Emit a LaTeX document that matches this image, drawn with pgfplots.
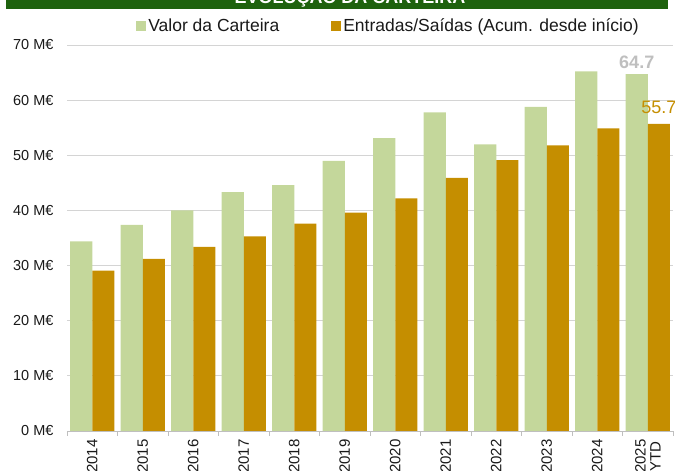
\documentclass[border=0pt]{standalone}
\usepackage{pgfplots}
\pgfplotsset{compat=1.18}
\usepackage{fontspec}
\setmainfont{Liberation Sans}
\definecolor{cgreen}{RGB}{196,215,155}
\definecolor{cgold}{RGB}{197,142,0}
\definecolor{cbanner}{RGB}{30,98,14}
\definecolor{clabgray}{RGB}{191,191,191}
\begin{document}
\begin{tikzpicture}[x=1bp,y=1bp]
\fill[cbanner] (6,461.5) rectangle (668,475);
\node[anchor=base,text=white,font=\fontsize{18bp}{20bp}\selectfont\bfseries,inner sep=0pt] at (350,467) {EVOLUÇÃO DA CARTEIRA};
\begin{axis}[
  at={(67bp,40bp)}, anchor=south west,
  scale only axis, width=606bp, height=386bp,
  xmin=-0.5, xmax=11.5, ymin=0, ymax=70,
  ybar=0pt, bar width=0.436,
  axis x line*=bottom, axis y line*=left,
  x axis line style={draw=black!25, line width=0.8bp},
  y axis line style={draw=none},
  ytick={0,10,...,70},
  yticklabels={0 M€,10 M€,20 M€,30 M€,40 M€,50 M€,60 M€,70 M€},
  yticklabel style={font=\fontsize{14.5bp}{16bp}\selectfont, text=black!90, xshift=-10bp},
  ytick style={draw=none},
  ymajorgrids, grid style={draw=black!17, line width=0.8bp},
  xtick={0,...,11},
  xticklabels={2014,2015,2016,2017,2018,2019,2020,2021,2022,2023,2024,{2025\\YTD}},
  xticklabel style={yshift=-5bp, rotate=90, anchor=east, align=center, font=\fontsize{15bp}{15bp}\selectfont, text=black!90},
  major x tick style={draw=none},
  minor xtick={-0.5,0.5,...,11.5},
  minor x tick style={draw=black!25, line width=0.8bp},
  tick align=outside, minor tick length=5bp, major tick length=0pt,
  legend columns=2,
  legend style={draw=none, fill=none, at={(0.5305,1.049)}, anchor=center,
    font=\fontsize{17.5bp}{19bp}\selectfont, text=black!90,
    /tikz/every even column/.append style={column sep=50bp},
    inner sep=0pt},
  legend image code/.code={\fill[#1] (0bp,-5bp) rectangle (10bp,5bp);},
  point meta=explicit symbolic,
  nodes near coords,
]
\addplot[fill=cgreen, draw=none,
  nodes near coords style={font=\fontsize{18bp}{20bp}\selectfont\bfseries, text=clabgray, anchor=south, yshift=2bp}]
  coordinates {(0,34.4)[] (1,37.4)[] (2,40.0)[] (3,43.3)[] (4,44.6)[] (5,49.0)[] (6,53.1)[] (7,57.8)[] (8,52.0)[] (9,58.8)[] (10,65.2)[] (11,64.7)[64.7]};
\addlegendentry{Valor da Carteira}
\addplot[fill=cgold, draw=none,
  nodes near coords style={font=\fontsize{18bp}{20bp}\selectfont, text=cgold, anchor=south, yshift=7bp}]
  coordinates {(0,29.1)[] (1,31.2)[] (2,33.4)[] (3,35.3)[] (4,37.6)[] (5,39.6)[] (6,42.2)[] (7,45.9)[] (8,49.1)[] (9,51.8)[] (10,54.9)[] (11,55.7)[55.7]};
\addlegendentry{Entradas/Saídas (Acum. desde início)}
\end{axis}
\pgfresetboundingbox
\path[use as bounding box] (0,0) rectangle (675,471);
\end{tikzpicture}
\end{document}
